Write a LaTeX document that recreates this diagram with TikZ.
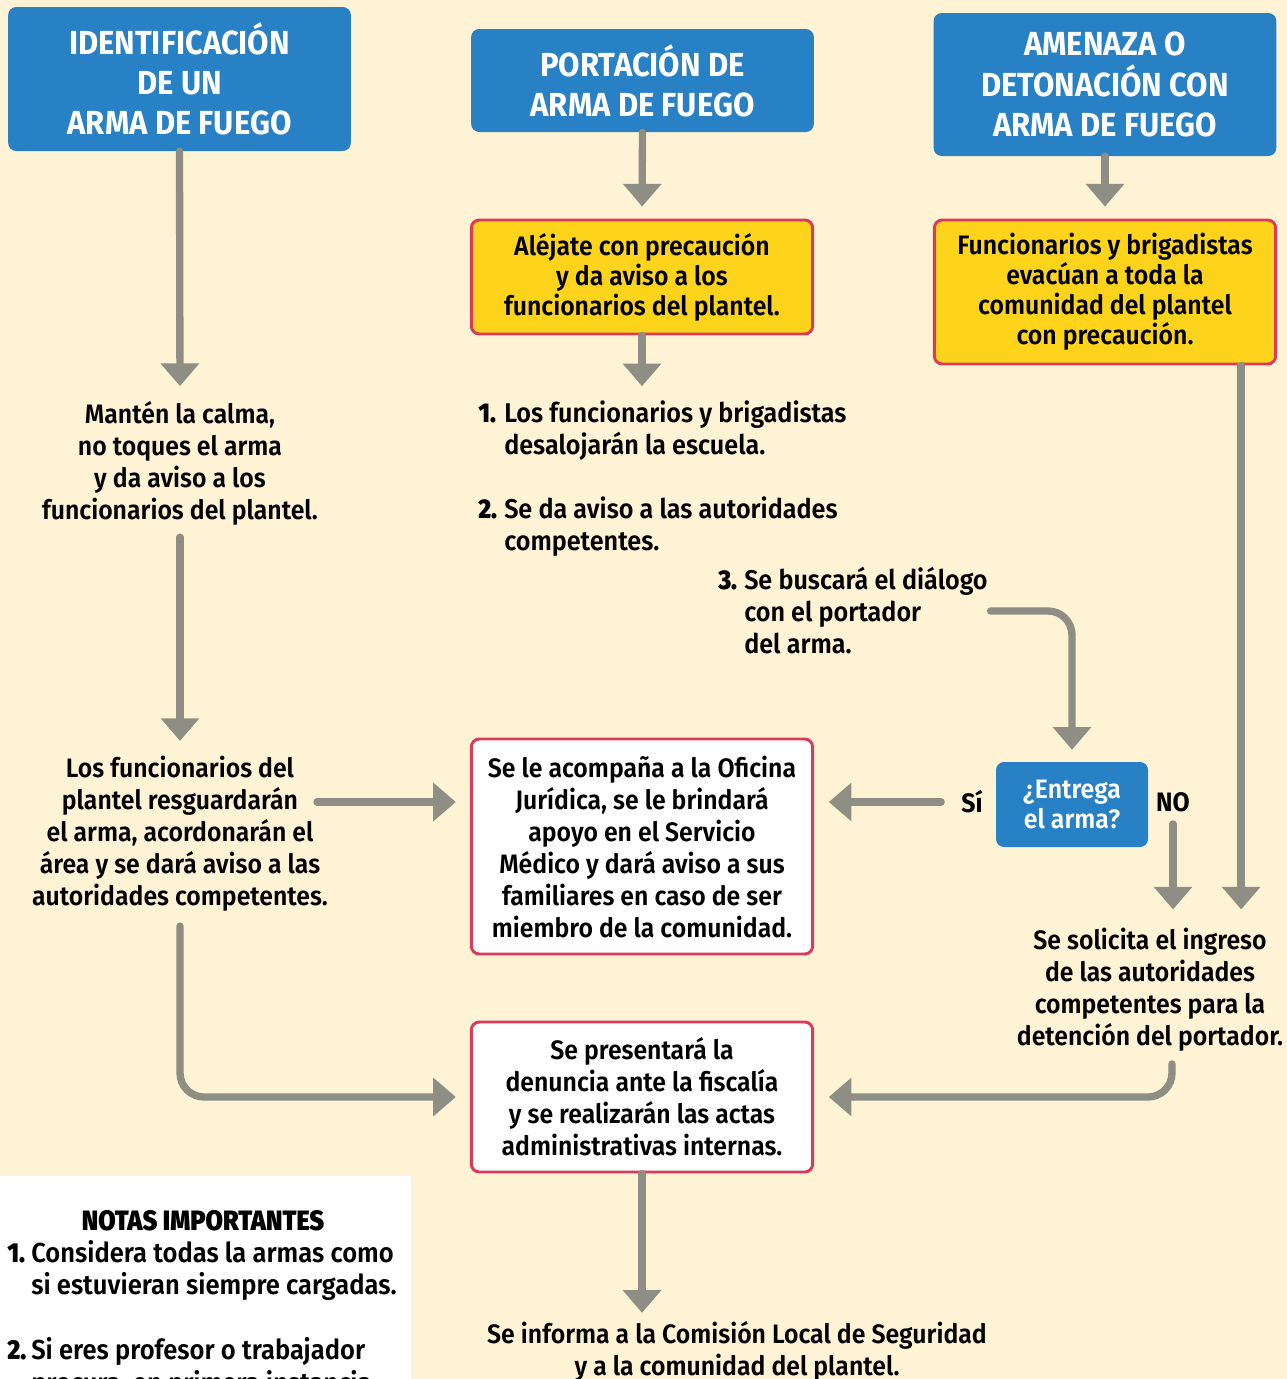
\documentclass[tikz,border=0pt]{standalone}
\usepackage{fontspec}
\setmainfont{Fira Sans}[UprightFont=* SemiBold, BoldFont=* Bold, FakeStretch=0.93]
\newfontfamily\heavyfont{Fira Sans}[UprightFont=* Black, FakeStretch=0.9]
\usetikzlibrary{arrows.meta,calc}
\definecolor{bg}{HTML}{FFF3D6}
\definecolor{bluebox}{HTML}{2981C5}
\definecolor{yellowbox}{HTML}{FDD31C}
\definecolor{redb}{HTML}{DC3A5A}
\definecolor{arrowgray}{HTML}{8E8E85}
\newcommand\numlab[2]{\makebox[#1][l]{{\heavyfont #2}}}
\tikzset{
  titlebox/.style={fill=bluebox, rounded corners=6pt, text=white, align=center, inner sep=0pt,
    font=\bfseries\fontsize{25}{30}\selectfont, minimum width=257pt},
  yellowb/.style={fill=yellowbox, draw=redb, line width=2.2pt, rounded corners=6pt, align=center,
    inner sep=0pt, font=\fontsize{20}{22.5}\selectfont, minimum width=256pt},
  whiteb/.style={fill=white, draw=redb, line width=2.2pt, rounded corners=6pt, align=center,
    inner sep=0pt, font=\fontsize{20}{24}\selectfont, minimum width=256pt},
  qbox/.style={fill=bluebox, rounded corners=6pt, text=white, align=center, inner sep=0pt,
    font=\fontsize{20}{23}\selectfont, minimum width=114pt, minimum height=63.75pt},
  txt/.style={align=center, inner sep=0pt, font=\fontsize{20}{24}\selectfont},
  ltxt/.style={align=left, inner sep=0pt, font=\fontsize{20.3}{24}\selectfont},
  ntxt/.style={align=left, inner sep=0pt, font=\fontsize{20.6}{24.5}\selectfont},
  lbl/.style={inner sep=0pt, font=\fontsize{20}{24}\selectfont},
  arr/.style={draw=arrowgray, line width=5.5pt, line cap=round, -{Triangle[width=28pt,length=17pt]}},
}
\begin{document}
\begin{tikzpicture}[x=0.75pt,y=-0.75pt]
\useasboundingbox (0,0) rectangle (1287,1379);
\fill[bg] (0,0) rectangle (1287,1379);
\fill[white] (0,1176) rectangle (411,1400);

% top boxes
\node[titlebox, minimum height=108pt] (boxA) at (179.5,79) {IDENTIFICACIÓN\\DE UN\\ARMA DE FUEGO};
\node[titlebox, minimum height=77.25pt] (boxB) at (642.5,80.5) {PORTACIÓN DE\\ARMA DE FUEGO};
\node[titlebox, minimum height=107.25pt, font=\bfseries\fontsize{25}{30.5}\selectfont] (boxC) at (1105,84.5) {AMENAZA O\\DETONACIÓN CON\\ARMA DE FUEGO};

% yellow boxes
\node[yellowb, minimum height=85.5pt] (yel1) at (642,277) {Aléjate con precaución\\y da aviso a los\\funcionarios del plantel.};
\node[yellowb, minimum height=108pt] (yel2) at (1105,292) {Funcionarios y brigadistas\\evacúan a toda la\\comunidad del plantel\\con precaución.};

% left column texts
\node[txt] (manten) at (180,463) {Mantén la calma,\\no toques el arma\\y da aviso a los\\funcionarios del plantel.};
\node[txt] (losf) at (180,833.5) {Los funcionarios del\\plantel resguardarán\\el arma, acordonarán el\\área y se dará aviso a las\\autoridades competentes.};

% list in middle
\node[ltxt, anchor=west] (l1) at (478,431) {\numlab{19.5pt}{1.}Los funcionarios y brigadistas\\\hspace*{19.5pt}desalojarán la escuela.};
\node[ltxt, anchor=west] (l2) at (478,527) {\numlab{19.5pt}{2.}Se da aviso a las autoridades\\\hspace*{19.5pt}competentes.};
\node[ltxt, anchor=west] (l3) at (718,611) {\numlab{19.5pt}{3.}Se buscará el diálogo\\\hspace*{19.5pt}con el portador\\\hspace*{19.5pt}del arma.};

% white boxes
\node[whiteb, minimum height=161.25pt] (white1) at (642,846.5) {Se le acompaña a la Oficina\\Jurídica, se le brindará\\apoyo en el Servicio\\Médico y dará aviso a sus\\familiares en caso de ser\\miembro de la comunidad.};
\node[whiteb, minimum height=112.5pt] (white2) at (642,1097) {Se presentará la\\denuncia ante la fiscalía\\y se realizarán las actas\\administrativas internas.};

% question
\node[qbox] (entrega) at (1072,804.5) {¿Entrega\\el arma?};
\node[lbl] (si) at (972,802) {\textbf{Sí}};
\node[lbl] (no) at (1173,802) {\textbf{NO}};

% right text
\node[txt] (solicita) at (1150,990) {Se solicita el ingreso\\de las autoridades\\competentes para la\\detención del portador.};

% bottom
\node[txt] (informa) at (737,1351) {Se informa a la Comisión Local de Seguridad\\y a la comunidad del plantel.};

% notes
\node[lbl, font=\heavyfont\fontsize{21}{24}\selectfont] (ntitle) at (203,1221) {NOTAS IMPORTANTES};
\node[ntxt, anchor=west] (n1) at (7,1270.5) {\numlab{18pt}{1.}Considera todas la armas como\\\hspace*{18pt}si estuvieran siempre cargadas.};
\node[ntxt, anchor=north west] (n2) at (7,1337) {\numlab{18pt}{2.}Si eres profesor o trabajador\\\hspace*{18pt}procura, en primera instancia};

% connectors
\coordinate (c1) at (317,802);
\coordinate (y2b) at ($(yel2.south east)+(-36,0)$);
\coordinate (s2b) at ($(solicita.south)+(22,0)$);
\draw[arr, shorten >=11pt] (boxA.south) -- (manten.north);
\draw[arr, shorten >=9pt] (boxB.south) -- (yel1.north);
\draw[arr, shorten >=9pt] (boxC.south) -- (yel2.north);
\draw[arr, shorten >=11pt] (yel1.south) -- (yel1.south |- l1.north);
\draw[arr, shorten <=9pt, shorten >=11pt] (manten.south) -- (losf.north);
\draw[arr, rounded corners=18pt, shorten <=2pt, shorten >=9pt] (l3.east) -| (entrega.north);
\draw[arr, shorten >=14pt] (y2b) -- (y2b |- solicita.north);
\draw[arr, shorten <=15pt, shorten >=11pt] (si.west) -- (white1.east |- si.west);
\draw[arr, shorten <=9pt, shorten >=14pt] (no.south) -- (no.south |- solicita.north);
\draw[arr, shorten >=10.5pt] (c1) -- (white1.west |- c1);
\draw[arr, rounded corners=18pt, shorten <=11pt, shorten >=10.5pt] (losf.south) |- (white2.west);
\draw[arr, rounded corners=18pt, shorten <=9pt, shorten >=11pt] (s2b) |- (white2.east);
\draw[arr, shorten >=6pt] (white2.south) -- (white2.south |- informa.north);
\end{tikzpicture}
\end{document}
